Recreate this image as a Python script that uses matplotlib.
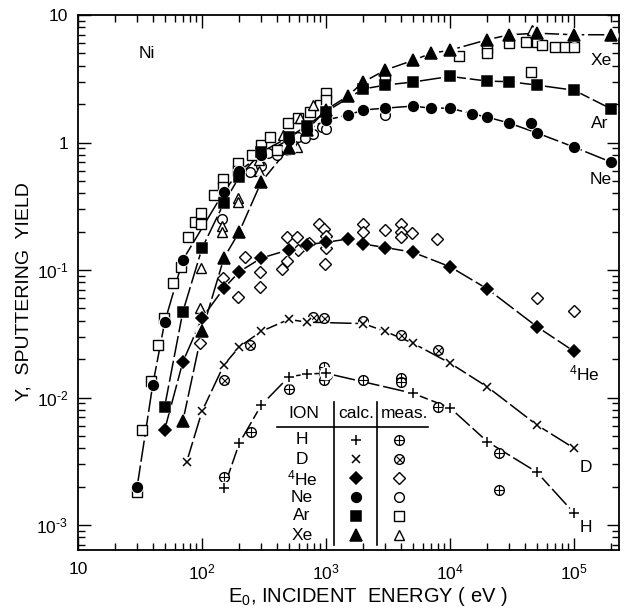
import matplotlib.pyplot as plt
from matplotlib.ticker import FixedLocator, LogLocator, NullFormatter

plt.rcParams['font.family'] = ['Liberation Sans', 'DejaVu Sans']
plt.rcParams['mathtext.fontset'] = 'custom'
plt.rcParams['mathtext.rm'] = 'Liberation Sans'
plt.rcParams['mathtext.it'] = 'Liberation Sans:italic'

# calculated yields (filled symbols, joined by curves), energies in eV
h_E = [150, 200, 300, 500, 700, 1000, 5000, 10000, 20000, 50000, 100000]
h_Y = [0.00195, 0.0044, 0.0087, 0.0145, 0.0153, 0.0155, 0.0108, 0.0083, 0.0045, 0.0026, 0.00124]

d_E = [75, 100, 150, 200, 300, 500, 700, 2000, 3000, 5000, 10000, 20000, 50000, 100000]
d_Y = [0.0031, 0.0078, 0.018, 0.025, 0.033, 0.041, 0.039, 0.038, 0.033, 0.0267, 0.0186, 0.0121, 0.0061, 0.004]

he_E = [50, 70, 100, 150, 200, 300, 500, 700, 1000, 1500, 2000, 3000, 5000, 10000, 20000, 50000, 100000]
he_Y = [0.0056, 0.019, 0.042, 0.072, 0.097, 0.124, 0.144, 0.158, 0.165, 0.175, 0.16, 0.15, 0.138, 0.106, 0.071, 0.036, 0.023]

ne_E = [30, 40, 50, 70, 150, 200, 300, 500, 700, 1000, 1500, 2000, 3000, 5000, 7000, 10000, 15000, 20000, 30000, 50000, 100000, 200000]
ne_Y = [0.002, 0.0125, 0.039, 0.12, 0.41, 0.6, 0.8, 1.05, 1.25, 1.5, 1.64, 1.8, 1.86, 1.93, 1.86, 1.86, 1.68, 1.58, 1.42, 1.19, 0.92, 0.70]
ne_extra_E = [45000]
ne_extra_Y = [1.42]

ar_E = [50, 70, 100, 150, 200, 300, 500, 700, 1000, 2000, 3000, 5000, 10000, 20000, 30000, 50000, 100000, 200000]
ar_Y = [0.0085, 0.047, 0.148, 0.335, 0.54, 0.84, 1.1, 1.35, 1.75, 2.63, 2.82, 2.98, 3.3, 3.03, 3.0, 2.82, 2.57, 1.83]

xe_E = [70, 100, 150, 200, 300, 500, 700, 1000, 1500, 2000, 3000, 5000, 7000, 10000, 20000, 30000, 50000, 100000, 200000]
xe_Y = [0.0065, 0.033, 0.124, 0.2, 0.49, 0.9, 1.25, 1.8, 2.32, 2.98, 3.7, 4.4, 5.0, 5.3, 6.4, 7.0, 7.2, 7.0, 7.0]

# measured yields (open symbols)
h_mE = [150, 250, 500, 960, 960, 1010, 960, 2000, 4000, 4000, 8000, 25000, 25000]
h_mY = [0.0024, 0.0054, 0.0117, 0.0174, 0.0156, 0.015, 0.0137, 0.0136, 0.0141, 0.0132, 0.0084, 0.0037, 0.00188]

d_mE = [150, 245, 780, 960, 2000, 4000, 8000]
d_mY = [0.0137, 0.026, 0.043, 0.042, 0.0395, 0.031, 0.0236]

he_mE = [96, 148, 196, 220, 295, 295, 445, 480, 485, 580, 590, 730, 870, 960, 1000, 1000, 980,
         2000, 2000, 3000, 4000, 4000, 4000, 4900, 7900, 50000, 100000]
he_mY = [0.027, 0.087, 0.061, 0.126, 0.097, 0.073, 0.102, 0.117, 0.18, 0.18, 0.144, 0.162, 0.23, 0.21, 0.185, 0.149, 0.111,
         0.23, 0.2, 0.205, 0.228, 0.2, 0.18, 0.195, 0.175, 0.06, 0.048]

ne_mE = [146, 245, 300, 340, 400, 490, 590, 680, 780, 930, 1000, 3000]
ne_mY = [0.25, 0.59, 0.66, 0.82, 0.8, 0.87, 1.1, 1.08, 1.17, 1.32, 1.28, 1.64]

ar_mE = [30, 33, 39, 44, 49, 58, 68, 77, 88, 98, 98, 125, 148, 148, 196, 196, 252, 300, 355, 400,
         490, 590, 740, 900, 1000, 1000, 3000, 11800, 20000, 20000, 30000, 41000, 45000, 50000, 55000,
         70000, 85000, 100000]
ar_mY = [0.0018, 0.0056, 0.0134, 0.026, 0.042, 0.079, 0.106, 0.18, 0.24, 0.28, 0.23, 0.39, 0.52, 0.45, 0.69, 0.6,
         0.8, 0.95, 1.1, 0.87, 1.42, 1.55, 1.73, 1.98, 2.44, 2.15, 3.3, 4.77, 5.5, 5.0, 6.0, 6.15, 3.57, 6.15, 5.8,
         5.6, 5.6, 5.6]

xe_mE = [96, 98, 145, 145, 196, 196, 290, 290, 450, 580, 620, 780, 46000]
xe_mY = [0.05, 0.104, 0.22, 0.2, 0.37, 0.34, 0.73, 0.6, 1.15, 0.92, 1.55, 1.97, 7.6]

ions = ['H', 'D', '$^4$He', 'Ne', 'Ar', 'Xe']

W, H = 630, 612
fig = plt.figure(figsize=(W / 100, H / 100), dpi=100)
ax = fig.add_axes([78 / W, 1 - 550 / H, (619 - 78) / W, (550 - 15) / H])
ax.set_xscale('log')
ax.set_yscale('log')
ax.set_xlim(10, 2.3e5)
ax.set_ylim(6.37e-4, 10)


def calc(E, Y, marker, ms, line=True):
    if line:
        ax.plot(E, Y, color='black', lw=1.1, dashes=(14, 2.5), zorder=2)
    ax.plot(E, Y, ls='none', marker='o', ms=ms + 1.5, mfc='white', mec='white', zorder=4)
    ax.plot(E, Y, ls='none', marker=marker, ms=ms, mfc='black', mec='black', mew=1.1, zorder=5)


def meas(E, Y, marker, ms, inner=None):
    ax.plot(E, Y, ls='none', marker=marker, ms=ms, mfc='white', mec='black', mew=1.0, zorder=3)
    if inner is not None:
        ax.plot(E, Y, ls='none', marker=inner, ms=ms * (1.0 if inner == '+' else 0.72),
                mec='black', mew=0.8, zorder=3)


meas(h_mE, h_mY, 'o', 7, '+')
meas(d_mE, d_mY, 'o', 7, 'x')
meas(he_mE, he_mY, 'D', 6)
meas(ne_mE, ne_mY, 'o', 7)
meas(ar_mE, ar_mY, 's', 6.5)
meas(xe_mE, xe_mY, '^', 7.5)

calc(h_E, h_Y, '+', 7.5)
calc(d_E, d_Y, 'x', 5.5)
calc(he_E, he_Y, 'D', 6.5)
calc(ne_E, ne_Y, 'o', 7)
calc(ne_extra_E, ne_extra_Y, 'o', 7, line=False)
calc(ar_E, ar_Y, 's', 7)
calc(xe_E, xe_Y, '^', 8)

# axes, ticks
ax.xaxis.set_major_locator(FixedLocator([10, 1e2, 1e3, 1e4, 1e5]))
ax.set_xticklabels(['10', '$10^2$', '$10^3$', '$10^4$', '$10^5$'])
ax.yaxis.set_major_locator(FixedLocator([1e-3, 1e-2, 1e-1, 1, 10]))
ax.set_yticklabels([r'$10^{\text{-}3}$', r'$10^{\text{-}2}$', r'$10^{\text{-}1}$', '1', '10'])
for axis in (ax.xaxis, ax.yaxis):
    axis.set_minor_locator(LogLocator(base=10, subs=range(2, 10), numticks=20))
    axis.set_minor_formatter(NullFormatter())
ax.tick_params(which='both', direction='in', top=True, right=True, width=1.0, labelsize=12.5)
ax.tick_params(which='major', length=9)
ax.tick_params(axis='x', which='major', pad=9)
ax.tick_params(axis='y', which='major', pad=7)
ax.tick_params(which='minor', length=5)
for s in ax.spines.values():
    s.set_linewidth(1.3)

fig.text(24 / W, 1 - 292 / H, 'Y,  SPUTTERING  YIELD', rotation=90, ha='center', va='center', fontsize=14)
fig.text(368 / W, 1 - 597 / H, 'E$_0$, INCIDENT  ENERGY ( eV )', ha='center', va='center', fontsize=14.5)

# target and curve labels
ax.text(36, 5.0, 'Ni', fontsize=12.5, ha='center', va='center')
ax.text(1.65e5, 4.4, 'Xe', fontsize=12.5, ha='center', va='center')
ax.text(1.6e5, 1.42, 'Ar', fontsize=12.5, ha='center', va='center')
ax.text(1.65e5, 0.51, 'Ne', fontsize=12.5, ha='center', va='center')
ax.text(1.2e5, 0.0155, '$^4$He', fontsize=12.5, ha='center', va='center')
ax.text(1.25e5, 0.00285, 'D', fontsize=12.5, ha='center', va='center')
ax.text(1.25e5, 0.00095, 'H', fontsize=12.5, ha='center', va='center')


# symbol table
def fp(x, y):
    return x / W, 1 - y / H


tf = fig.transFigure
fig.text(*fp(304, 413), 'ION', ha='center', va='center', fontsize=12.5)
fig.text(*fp(356, 413), 'calc.', ha='center', va='center', fontsize=12.5)
fig.text(*fp(405, 413), 'meas.', ha='center', va='center', fontsize=12.5)
ax.plot(*zip(fp(277, 427), fp(428, 427)), color='black', lw=1.2, transform=tf, clip_on=False)
for xv in (334, 377):
    ax.plot(*zip(fp(xv, 402), fp(xv, 545)), color='black', lw=1.2, transform=tf, clip_on=False)

calc_sym = [('+', 7.5), ('x', 5.5), ('D', 6.5), ('o', 7), ('s', 7), ('^', 8)]
meas_sym = [('o', 7, '+'), ('o', 7, 'x'), ('D', 6, None), ('o', 7, None), ('s', 6.5, None), ('^', 7.5, None)]
row_y = [440, 459, 478, 497, 516, 535]
for ion, ry, cs, ms_ in zip(ions, row_y, calc_sym, meas_sym):
    fig.text(*fp(302, ry), ion, ha='center', va='center', fontsize=12.5)
    cx, cy = fp(356, ry)
    ax.plot([cx], [cy], ls='none', marker=cs[0], ms=cs[1], mfc='black', mec='black', mew=1.1,
            transform=tf, clip_on=False)
    mx, my = fp(399, ry)
    ax.plot([mx], [my], ls='none', marker=ms_[0], ms=ms_[1], mfc='white', mec='black', mew=1.0,
            transform=tf, clip_on=False)
    if ms_[2] is not None:
        ax.plot([mx], [my], ls='none', marker=ms_[2], ms=ms_[1] * (1.0 if ms_[2] == '+' else 0.72),
                mec='black', mew=0.8, transform=tf, clip_on=False)

fig.savefig('out.png', dpi=100)
